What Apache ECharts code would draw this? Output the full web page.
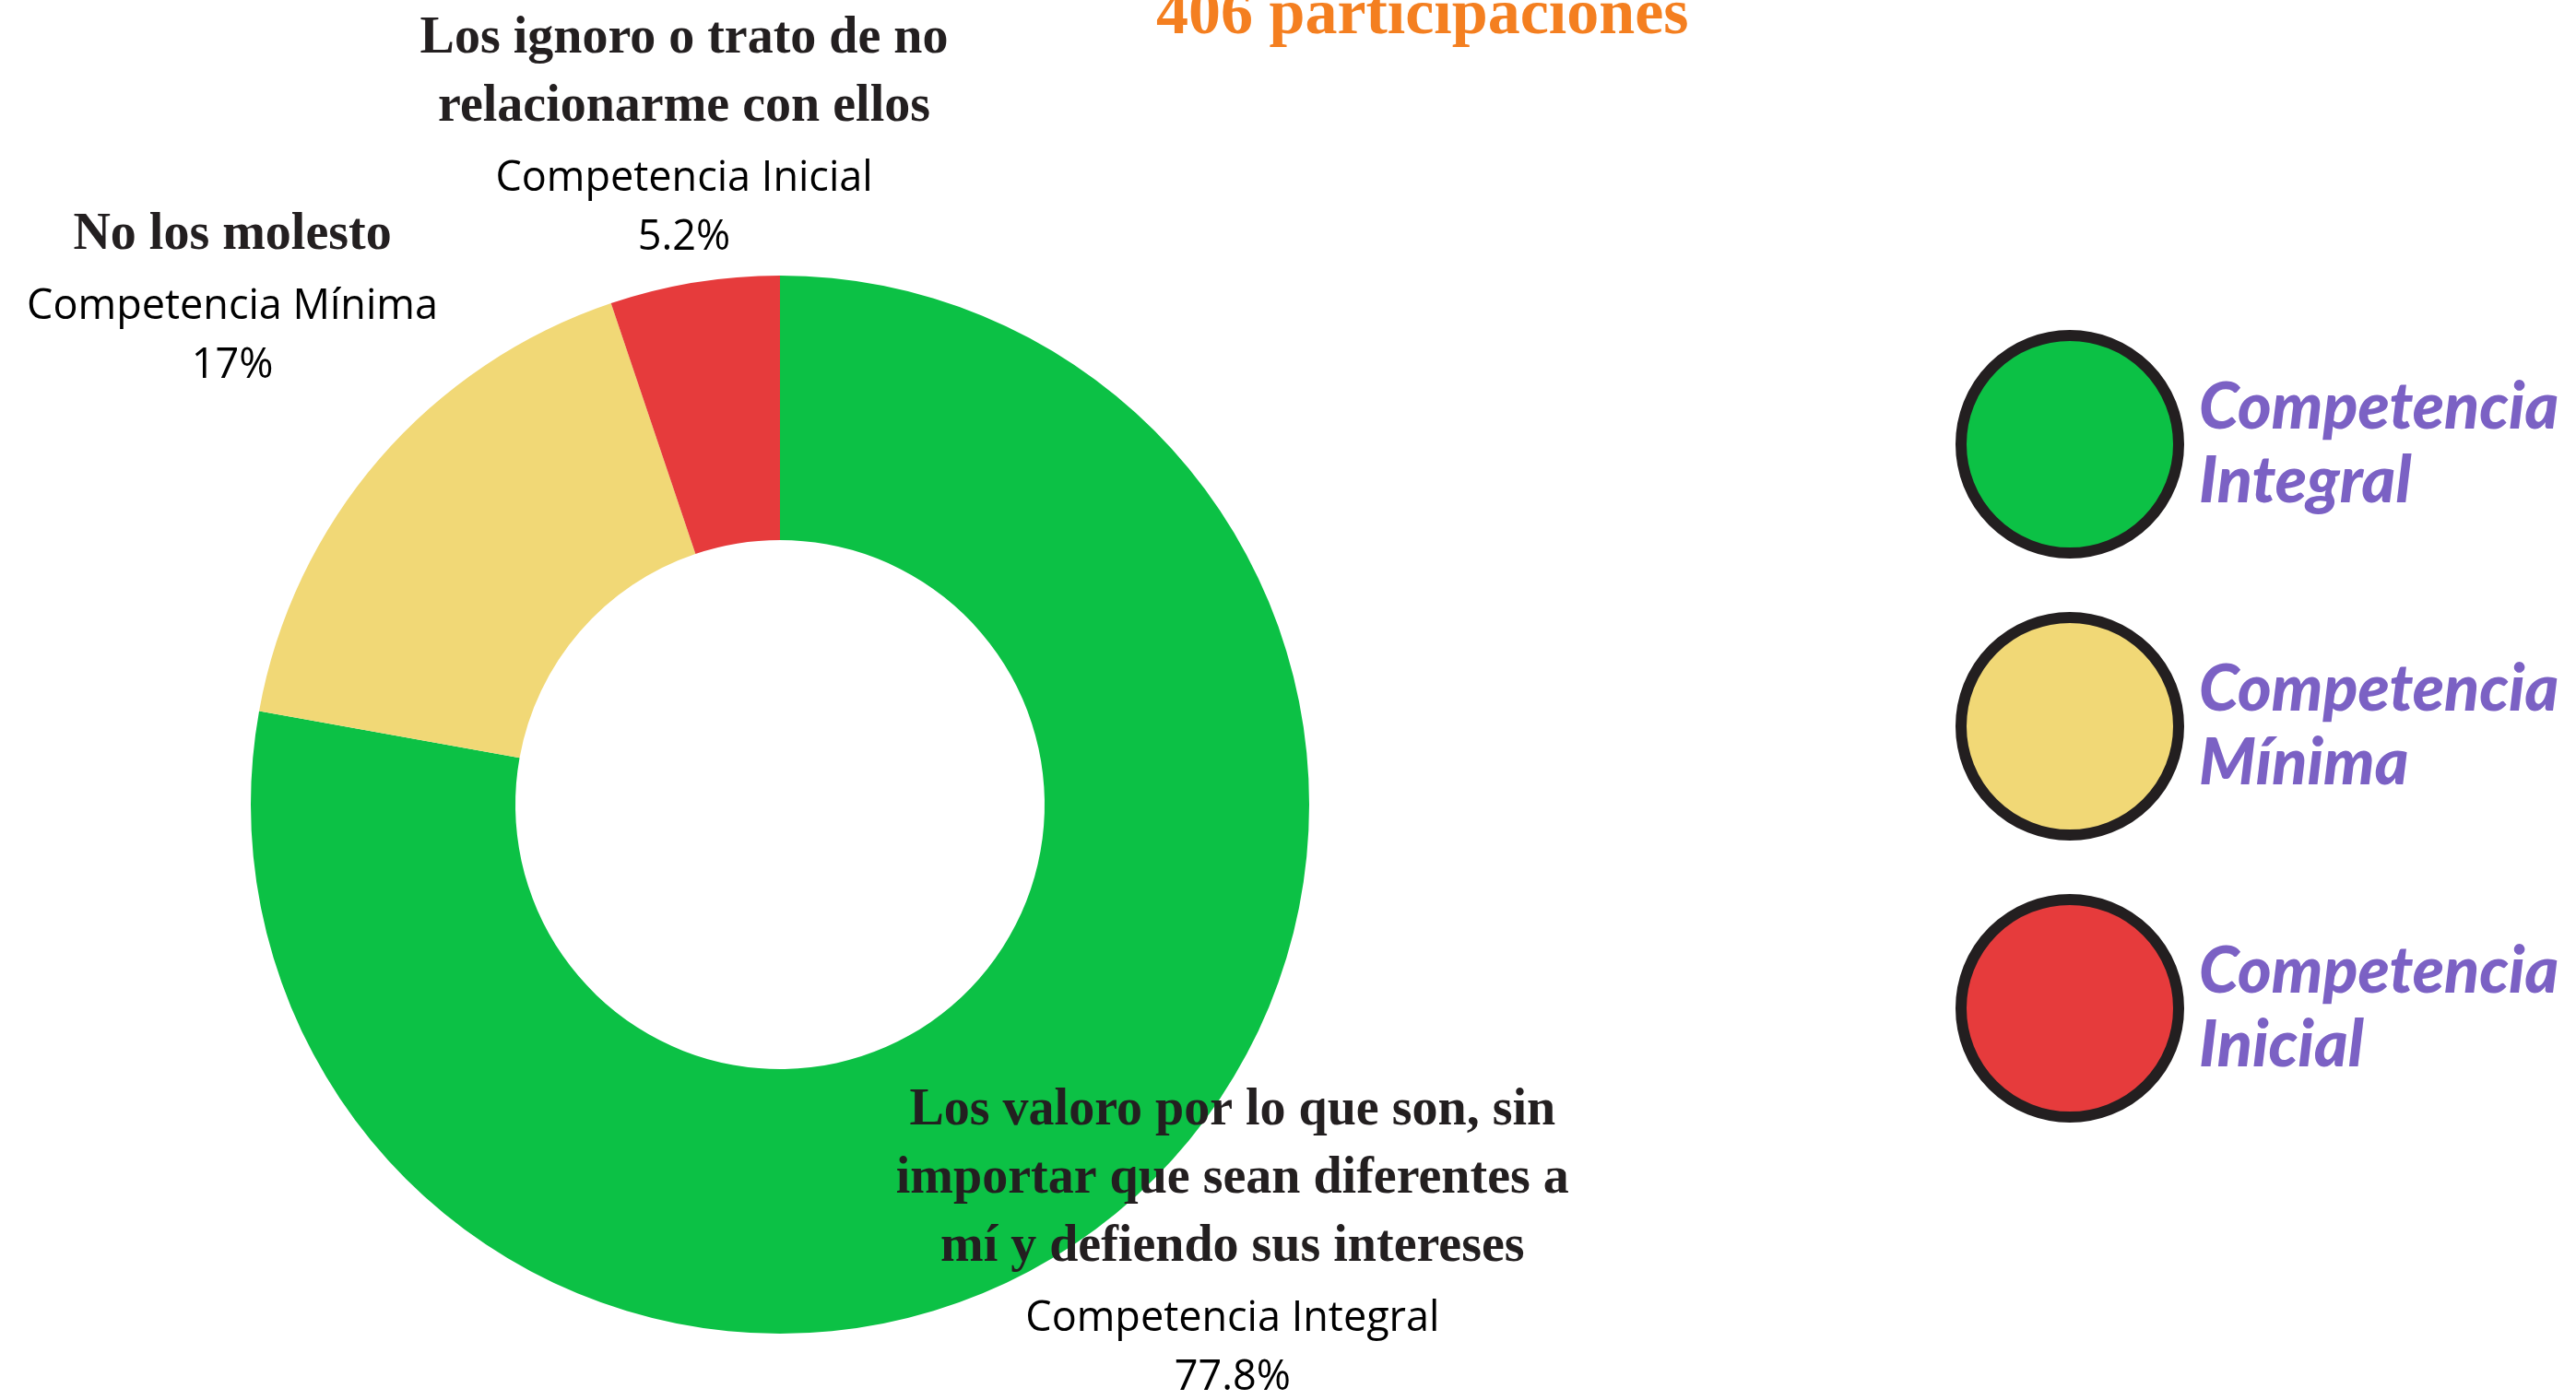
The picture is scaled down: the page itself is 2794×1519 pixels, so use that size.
<!DOCTYPE html>
<html>
<head>
<meta charset="utf-8">
<script src="https://cdn.jsdelivr.net/npm/echarts@6/dist/echarts.min.js"></script>
<style>
  html, body { margin: 0; padding: 0; background: #fff; }
  #chart { width: 2794px; height: 1519px; }
</style>
</head>
<body>
<div id="chart"></div>
<script>
  // data
  var responses = [
    'Los valoro por lo que son, sin\nimportar que sean diferentes a\nmí y defiendo sus intereses',
    'No los molesto',
    'Los ignoro o trato de no\nrelacionarme con ellos'
  ];
  var levels = ['Competencia Integral', 'Competencia Mínima', 'Competencia Inicial'];
  var counts = [316, 69, 21];
  var colors = ['#0cc145', '#f1d876', '#e63b3c'];

  var total = counts.reduce(function (a, b) { return a + b; }, 0);

  // donut geometry
  var CX = 846, CY = 873, R_IN = 287, R_OUT = 574;
  // label placement: distance from centre and angle tweak (deg) per slice
  var labelDist = [680, 812, 737];
  var labelShift = [-6.3, 2.2, 1.2];

  var chart = echarts.init(document.getElementById('chart'));

  var option = {
    backgroundColor: '#ffffff',
    animation: false,
    title: {
      text: total + ' participaciones',
      left: 1249,
      top: -22,
      textStyle: {
        color: '#f47f20',
        fontFamily: 'Liberation Serif',
        fontWeight: 'bold',
        fontSize: 70,
        lineHeight: 70
      }
    },
    legend: {
      orient: 'vertical',
      left: 2116,
      top: 353,
      itemGap: 58,
      itemWidth: 236,
      itemHeight: 236,
      icon: 'circle',
      selectedMode: false,
      data: responses,
      itemStyle: {
        borderColor: '#231f20',
        borderWidth: 12
      },
      formatter: function (name) {
        return levels[responses.indexOf(name)].replace(' ', '\n');
      },
      textStyle: {
        color: '#7b61c4',
        fontFamily: 'Lato',
        fontWeight: 900,
        fontStyle: 'italic',
        fontSize: 70,
        lineHeight: 80,
        padding: [0, 0, 0, 17]
      }
    },
    series: [
      {
        type: 'pie',
        center: [CX, CY],
        radius: [R_IN, R_OUT],
        startAngle: 90,
        clockwise: true,
        avoidLabelOverlap: false,
        percentPrecision: 1,
        itemStyle: { borderWidth: 0 },
        emphasis: { disabled: true },
        labelLine: { show: false },
        label: {
          show: true,
          position: 'outside',
          formatter: function (p) {
            var title = p.name.split('\n').map(function (l) { return '{t|' + l + '}'; }).join('\n');
            return title + '\n{s|' + levels[p.dataIndex] + '}\n{p|' + p.percent + '%}';
          },
          rich: {
            t: {
              fontFamily: 'Liberation Serif',
              fontWeight: 'bold',
              fontSize: 56,
              lineHeight: 74,
              color: '#231f20',
              align: 'center'
            },
            s: {
              fontFamily: 'Open Sans',
              fontSize: 45,
              lineHeight: 82,
              color: '#000000',
              align: 'center'
            },
            p: {
              fontFamily: 'Open Sans',
              fontSize: 45,
              lineHeight: 46,
              color: '#000000',
              align: 'center'
            }
          }
        },
        labelLayout: function (p) {
          var i = p.dataIndex;
          var before = 0;
          for (var k = 0; k < i; k++) before += counts[k];
          var ang = (before + counts[i] / 2) / total * Math.PI * 2 + labelShift[i] * Math.PI / 180;
          return {
            x: CX + labelDist[i] * Math.sin(ang),
            y: CY - labelDist[i] * Math.cos(ang),
            align: 'center',
            verticalAlign: 'middle'
          };
        },
        data: responses.map(function (name, i) {
          return { name: name, value: counts[i], itemStyle: { color: colors[i] } };
        })
      }
    ]
  };

  chart.setOption(option);
</script>
</body>
</html>
